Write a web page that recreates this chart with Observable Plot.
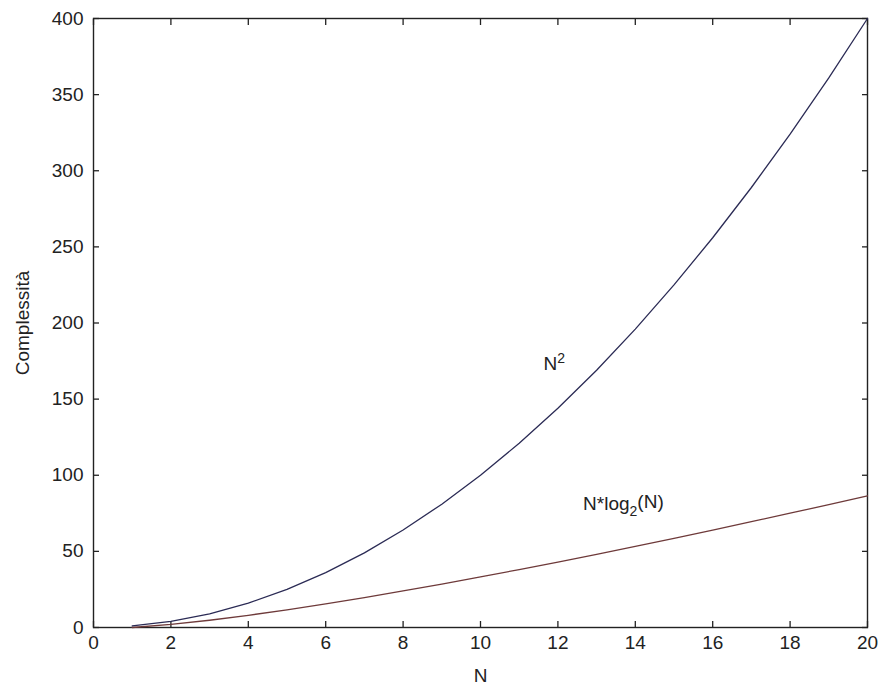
<!DOCTYPE html>
<html>
<head>
<meta charset="utf-8">
<script src="https://cdn.jsdelivr.net/npm/d3@7"></script>
<script src="https://cdn.jsdelivr.net/npm/@observablehq/plot@0.6"></script>
<style>
  html, body { margin: 0; padding: 0; background: #fff; }
  #chart svg { display: block; }
</style>
</head>
<body>
<div id="chart"></div>
<script>
// Data
const N = [1, 2, 3, 4, 5, 6, 7, 8, 9, 10, 11, 12, 13, 14, 15, 16, 17, 18, 19, 20];
const quadratic = [1, 4, 9, 16, 25, 36, 49, 64, 81, 100, 121, 144, 169, 196, 225, 256, 289, 324, 361, 400];
const nlogn = [0, 2, 4.75, 8, 11.6, 15.5, 19.65, 24, 28.5, 33.2, 38.05, 43, 48.1, 53.3, 58.6, 64, 69.5, 75.05, 80.7, 86.4];
const xTicks = [0, 2, 4, 6, 8, 10, 12, 14, 16, 18, 20];
const yTicks = [0, 50, 100, 150, 200, 250, 300, 350, 400];
const labels = [
  {n: 11.63, v: 173, text: "N2"},
  {n: 12.65, v: 81, text: "N*log2(N)"}
];

const rowsQ = N.map((n, i) => ({n, v: quadratic[i]}));
const rowsL = N.map((n, i) => ({n, v: nlogn[i]}));

const font = "'Liberation Sans', Arial, sans-serif";
const ink = "#222";
const tk = 6;

const chart = Plot.plot({
  width: 880,
  height: 688,
  marginLeft: 93,
  marginRight: 13,
  marginTop: 18,
  marginBottom: 61,
  style: {fontFamily: font, fontSize: "19px", color: ink, background: "#fff"},
  x: {domain: [0, 20]},
  y: {domain: [0, 400]},
  marks: [
    // tick labels (bottom/left)
    Plot.axisX(xTicks, {anchor: "bottom", tickSize: 0, tickPadding: 8, label: "N", labelAnchor: "center", labelOffset: 54, labelArrow: "none", fontSize: 19}),
    Plot.axisY(yTicks, {anchor: "left", tickSize: 0, tickPadding: 10, label: "Complessità", labelAnchor: "center", labelOffset: 78, labelArrow: "none", fontSize: 19}),
    // inward tick marks on all four sides
    Plot.axisX(xTicks, {anchor: "bottom", tickSize: tk, dy: -tk, text: null, label: null, stroke: ink, strokeWidth: 1.3}),
    Plot.axisX(xTicks, {anchor: "top", tickSize: tk, dy: tk, text: null, label: null, stroke: ink, strokeWidth: 1.3}),
    Plot.axisY(yTicks, {anchor: "left", tickSize: tk, dx: tk, text: null, label: null, stroke: ink, strokeWidth: 1.3}),
    Plot.axisY(yTicks, {anchor: "right", tickSize: tk, dx: -tk, text: null, label: null, stroke: ink, strokeWidth: 1.3}),
    Plot.frame({stroke: ink, strokeWidth: 1.4}),
    Plot.line(rowsL, {x: "n", y: "v", stroke: "#6e3a3a", strokeWidth: 1.3}),
    Plot.line(rowsQ, {x: "n", y: "v", stroke: "#2b2b55", strokeWidth: 1.3}),
    Plot.text(labels, {x: "n", y: "v", text: "text", textAnchor: "start", lineAnchor: "middle", fontSize: 19, fill: ink})
  ]
});

// Render superscript / subscript in the curve labels
d3.select(chart).selectAll("text").each(function() {
  const t = this.textContent;
  if (t === "N2") {
    this.textContent = "";
    const s = d3.select(this);
    s.append("tspan").text("N");
    s.append("tspan").attr("dy", "-0.5em").attr("font-size", "14px").text("2");
  } else if (t === "N*log2(N)") {
    this.textContent = "";
    const s = d3.select(this);
    s.append("tspan").text("N*log");
    s.append("tspan").attr("dy", "0.4em").attr("font-size", "14px").text("2");
    s.append("tspan").attr("dy", "-0.4em").text("(N)");
  }
});

document.getElementById("chart").appendChild(chart);
</script>
</body>
</html>
